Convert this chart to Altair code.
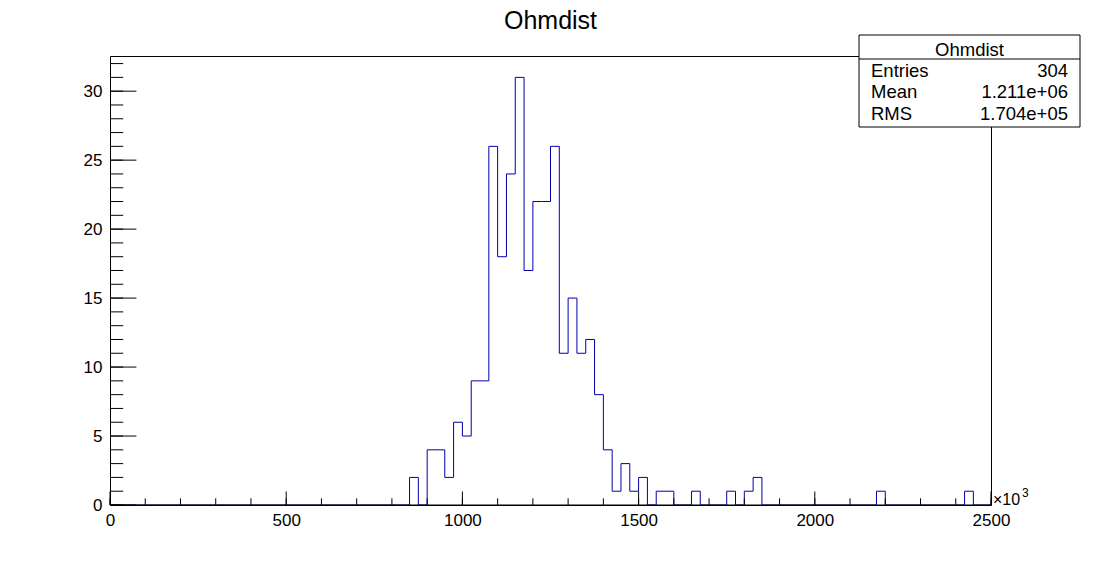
import altair as alt
import pandas as pd

# ---- data ----
bin_width = 25
x_max = 2500
counts = [
    0, 0, 0, 0, 0, 0, 0, 0, 0, 0,
    0, 0, 0, 0, 0, 0, 0, 0, 0, 0,
    0, 0, 0, 0, 0, 0, 0, 0, 0, 0,
    0, 0, 0, 0, 2, 0, 4, 4, 2, 6,
    5, 9, 9, 26, 18, 24, 31, 17, 22, 22,
    26, 11, 15, 11, 12, 8, 4, 1, 3, 1,
    2, 0, 1, 1, 0, 0, 1, 0, 0, 0,
    1, 0, 1, 2, 0, 0, 0, 0, 0, 0,
    0, 0, 0, 0, 0, 0, 0, 1, 0, 0,
    0, 0, 0, 0, 0, 0, 0, 1, 0, 0,
]
x_major = [0, 500, 1000, 1500, 2000, 2500]
x_minor = list(range(0, 2501, 100))
y_major = [0, 5, 10, 15, 20, 25, 30]
y_minor = list(range(0, 33))
title_text = "Ohmdist"
stats_labels = ["Entries", "Mean", "RMS"]
stats_values = ["304", "1.211e+06", "1.704e+05"]
exp_base = "×10"
exp_power = "3"

FONT = "Liberation Sans"
LINE = "#0000aa"
W, H = 881, 449

xs = alt.Scale(domain=[0, x_max], nice=False, zero=False)
ys = alt.Scale(domain=[0, 32.55], nice=False, zero=True)

xaxis = alt.Axis(
    values=x_major, format="d", ticks=False, domain=False, grid=False, title=None,
    labelFont=FONT, labelFontSize=17, labelColor="black",
    labelPadding=7, labelFlush=False, labelOverlap=False)
yaxis = alt.Axis(
    values=y_major, format="d", ticks=False, domain=False, grid=False, title=None,
    labelFont=FONT, labelFontSize=17, labelColor="black",
    labelPadding=8, labelFlush=False, labelOverlap=False)

edges = [i * bin_width for i in range(len(counts))] + [x_max]
hist_df = pd.DataFrame({"x": edges, "y": counts + [0]})

hist = alt.Chart(hist_df).mark_line(
    interpolate="step-after", color=LINE, strokeWidth=1
).encode(
    x=alt.X("x:Q", scale=xs, axis=xaxis),
    y=alt.Y("y:Q", scale=ys, axis=yaxis),
)

def xticks(vals, length):
    return alt.Chart(pd.DataFrame({"x": vals})).mark_rule(color="black", strokeWidth=1).encode(
        x=alt.X("x:Q", scale=xs, axis=xaxis),
        y=alt.value(H), y2=alt.value(H - length))

def yticks(vals, length):
    return alt.Chart(pd.DataFrame({"y": vals})).mark_rule(color="black", strokeWidth=1).encode(
        y=alt.Y("y:Q", scale=ys, axis=yaxis),
        x=alt.value(0), x2=alt.value(length))

one = pd.DataFrame({"a": [0]})

bottom_line = alt.Chart(one).mark_rule(color="black", strokeWidth=1).encode(
    x=alt.value(0), x2=alt.value(W), y=alt.value(H))

def text_layer(t, x, y, size, align="left"):
    return alt.Chart(pd.DataFrame({"t": [t]})).mark_text(
        font=FONT, fontSize=size, align=align, baseline="alphabetic", color="black"
    ).encode(text="t:N", x=alt.value(x), y=alt.value(y))

title = text_layer(title_text, W / 2, -27.5, 25, "center")
exp1 = text_layer(exp_base, 883, 448.5, 16)
exp2 = text_layer(exp_power, 912, 441, 12)

box = alt.Chart(one).mark_rect(fill="white", stroke="black", strokeWidth=1).encode(
    x=alt.value(749), x2=alt.value(970), y=alt.value(-21), y2=alt.value(71))
sep = alt.Chart(one).mark_rule(color="black", strokeWidth=1).encode(
    x=alt.value(749), x2=alt.value(970), y=alt.value(3))
header = text_layer(title_text, 859.5, -0.5, 18.5, "center")

rows = []
row_y = [21, 42, 63.5]
for lab, val, yy in zip(stats_labels, stats_values, row_y):
    rows.append(text_layer(lab, 761, yy, 18.5, "left"))
    rows.append(text_layer(val, 958, yy, 18.5, "right"))

chart = alt.layer(
    hist,
    xticks(x_minor, 6.7), xticks(x_major, 13.5),
    yticks(y_minor, 13.2), yticks(y_major, 26.4),
    bottom_line, title, exp1, exp2, box, sep, header, *rows
).properties(
    width=W, height=H,
    autosize=alt.AutoSizeParams(type="none"),
    padding={"left": 110, "top": 56, "right": 111, "bottom": 57},
    background="white",
).configure_view(stroke="black", strokeWidth=1
).configure_axis(labelFont=FONT, labelFontSize=17, labelColor="black")

chart.save("out.html", embed_options={"renderer": "svg", "actions": False})
